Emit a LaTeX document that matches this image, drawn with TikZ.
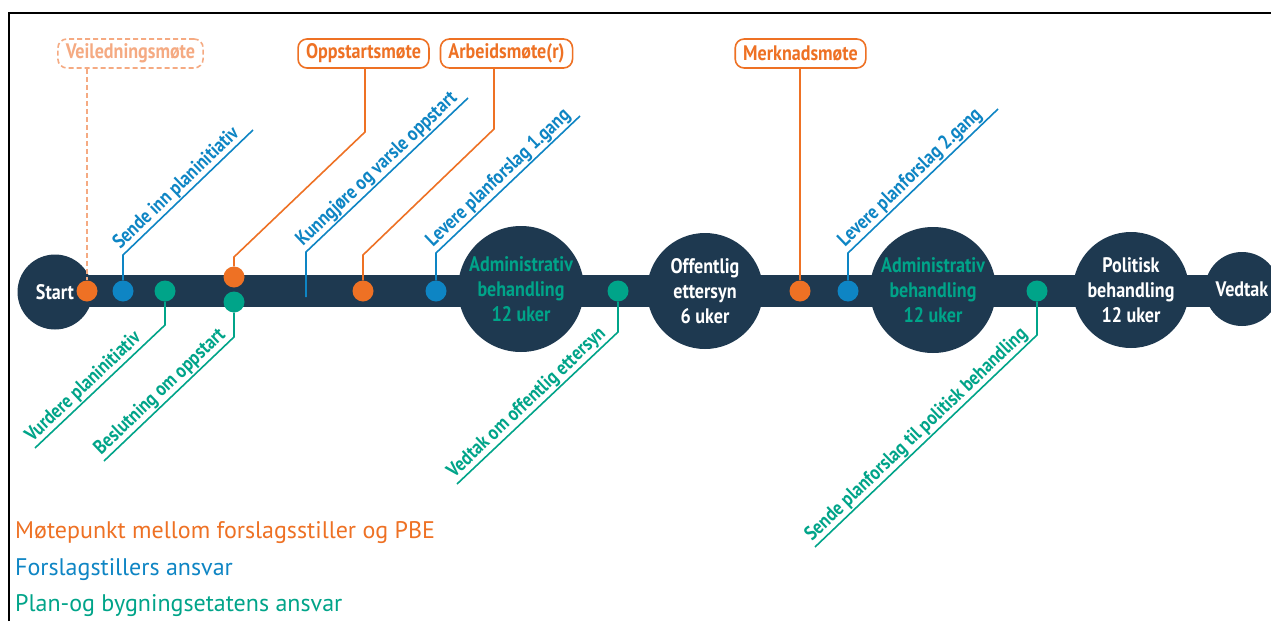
\documentclass[tikz,border=0pt]{standalone}
\usepackage{fontspec}
\setmainfont{PT Sans}
\newfontfamily\cond[FakeStretch=0.86]{PT Sans}
\definecolor{navy}{RGB}{30,57,80}
\definecolor{orng}{RGB}{238,113,36}
\definecolor{lorng}{RGB}{245,170,130}
\definecolor{blu}{RGB}{14,133,196}
\definecolor{grn}{RGB}{0,164,137}
\begin{document}
\begin{tikzpicture}[x=1pt,y=-1pt,
  stage/.style={circle, fill=navy, inner sep=0pt, align=center, font=\cond\bfseries\fontsize{21}{25}\selectfont, text=white},
  dot/.style={circle, inner sep=0pt, minimum size=21pt},
  meet/.style={draw=orng, line width=1.6pt, rounded corners=9pt, fill=white, text=orng, font=\cond\bfseries\fontsize{21}{22}\selectfont, minimum height=29pt, inner xsep=8pt, inner ysep=0pt},
  lead/.style={line width=1.6pt},
  lbl/.style={font=\cond\bfseries\fontsize{20}{20}\selectfont, inner sep=1.5pt, sloped, anchor=south west, pos=0},
  leg/.style={font=\fontsize{24}{28}\selectfont, anchor=base west, inner sep=0pt}
]
\fill[white] (0,0) rectangle (1271,621);
\useasboundingbox (0,0) rectangle (1271,621);
\draw[line width=2.5pt] (9,621) -- (9,13) -- (1275,13);

% bar
\fill[navy] (56,275) rectangle (1242,307);
\node[stage, minimum size=75pt] (start) at (55,292) {Start};
\node[stage, minimum size=126pt, text=grn] (adm1) at (521,289) {Administrativ\\behandling\\12 uker};
\node[stage, minimum size=116pt] (off) at (705,291) {Offentlig\\ettersyn\\6 uker};
\node[stage, minimum size=126pt, text=grn] (adm2) at (933,290) {Administrativ\\behandling\\12 uker};
\node[stage, minimum size=116pt] (pol) at (1131,290) {Politisk\\behandling\\12 uker};
\node[stage, minimum size=74pt] (ved) at (1242,289) {Vedtak};

% dots
\node[dot, fill=orng] (o1) at (87,291) {};
\node[dot, fill=blu] (b1) at (123,291) {};
\node[dot, fill=grn] (g1) at (165,291) {};
\node[dot, fill=orng] (o2) at (234,277) {};
\node[dot, fill=grn] (g2) at (234,302) {};
\coordinate (b2) at (306,297);
\node[dot, fill=orng] (o3) at (363,291) {};
\node[dot, fill=blu] (b3) at (436,291) {};
\node[dot, fill=grn] (g3) at (618,291) {};
\node[dot, fill=orng] (o4) at (800,291) {};
\node[dot, fill=blu] (b4) at (848,291) {};
\node[dot, fill=grn] (g4) at (1037,291) {};

% meeting boxes
\node[meet, draw=lorng, text=lorng, dash pattern=on 5pt off 3pt] (vei) at (130.5,53.5) {Veiledningsmøte};
\node[meet] (opp) at (363.5,53.5) {Oppstartsmøte};
\node[meet] (arb) at (506.5,53.5) {Arbeidsmøte(r)};
\node[meet] (mer) at (800.5,53.5) {Merknadsmøte};

% orange leaders
\draw[lead, lorng, dash pattern=on 5pt off 3pt] (o1.north |- vei.south) -- (o1.north);
\coordinate (opp1) at (365,132); \coordinate (opp2) at (234,257);
\draw[lead, orng] (opp.south -| opp1) -- (opp1) -- (opp2) -- (o2.north);
\coordinate (arb1) at (494,129); \coordinate (arb2) at (363,255);
\draw[lead, orng] (arb.south -| arb1) -- (arb1) -- (arb2) -- (o3.north);
\draw[lead, orng] (mer.south -| o4) -- (o4.north);

% blue leaders
\coordinate (b1c) at (123,255); \coordinate (b1e) at (253,130);
\draw[lead, blu] (b1.north) -- (b1c) -- (b1e);
\path (b1c) -- (b1e) node[lbl, text=blu] {Sende inn planinitiativ};
\coordinate (b2c) at (306,252); \coordinate (b2e) at (468,98);
\draw[lead, blu] (b2) -- (b2c) -- (b2e);
\path (b2c) -- (b2e) node[lbl, text=blu] {Kunngjøre og varsle oppstart};
\coordinate (b3c) at (436,253); \coordinate (b3e) at (580,116);
\draw[lead, blu] (b3.north) -- (b3c) -- (b3e);
\path (b3c) -- (b3e) node[lbl, text=blu] {Levere planforslag 1.gang};
\coordinate (b4c) at (848,253); \coordinate (b4e) at (998,109);
\draw[lead, blu] (b4.north) -- (b4c) -- (b4e);
\path (b4c) -- (b4e) node[lbl, text=blu] {Levere planforslag 2.gang};

% green leaders
\coordinate (g1c) at (165,325); \coordinate (g1e) at (35,448);
\draw[lead, grn] (g1.south) -- (g1c) -- (g1e);
\path (g1e) -- (g1c) node[lbl, text=grn] {Vurdere planinitiativ};
\coordinate (g2c) at (234,337); \coordinate (g2e) at (104,461);
\draw[lead, grn] (g2.south) -- (g2c) -- (g2e);
\path (g2e) -- (g2c) node[lbl, text=grn] {Beslutning om oppstart};
\coordinate (g3c) at (618,332); \coordinate (g3e) at (457,484);
\draw[lead, grn] (g3.south) -- (g3c) -- (g3e);
\path (g3e) -- (g3c) node[lbl, text=grn] {Vedtak om offentlig ettersyn};
\coordinate (g4c) at (1037,335); \coordinate (g4e) at (815,547);
\draw[lead, grn] (g4.south) -- (g4c) -- (g4e);
\path (g4e) -- (g4c) node[lbl, text=grn] {Sende planforslag til politisk behandling};

% legend
\node[leg, text=orng] (l1) at (15,538) {Møtepunkt mellom forslagsstiller og PBE};
\node[leg, text=blu] (l2) at (15,575) {Forslagstillers ansvar};
\node[leg, text=grn] (l3) at (15,611) {Plan-og bygningsetatens ansvar};
\end{tikzpicture}
\end{document}
